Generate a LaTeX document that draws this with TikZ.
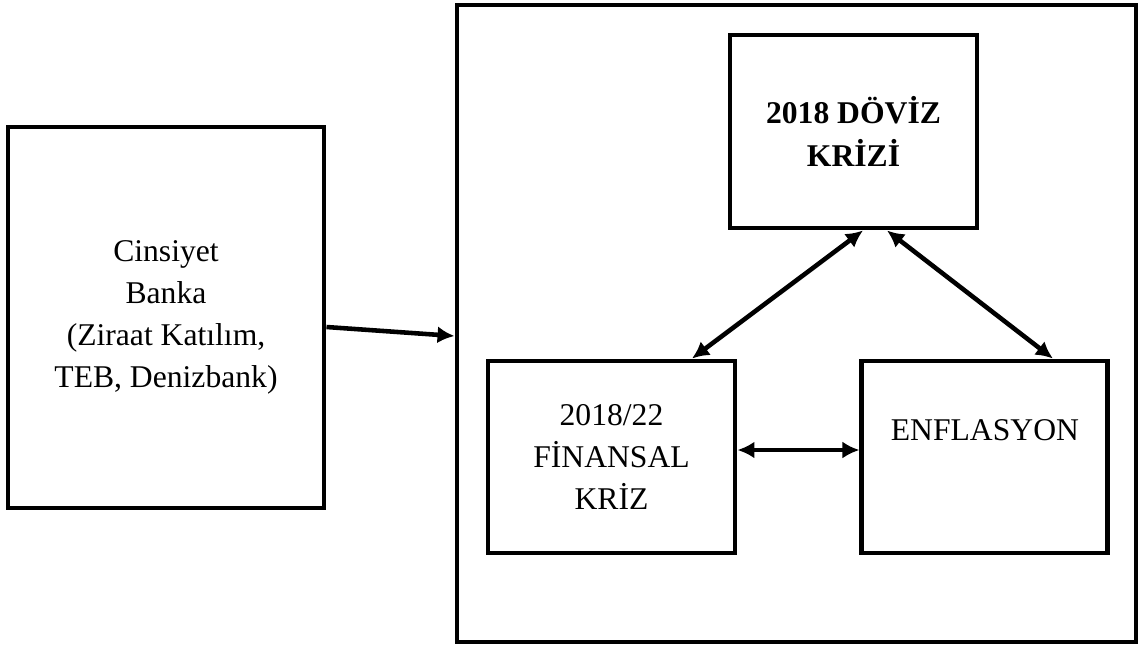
\documentclass[tikz,border=0pt]{standalone}
\usepackage{fontspec}
\setmainfont{Liberation Serif}
\usetikzlibrary{arrows.meta,positioning}
\begin{document}
\begin{tikzpicture}[
			node distance=2.44cm,
			every node/.style={draw, rectangle, line width=2.8pt, align=center, inner sep=0pt, font=\fontsize{18}{24}\selectfont},
			box/.style={minimum width=4.94cm, minimum height=3.84cm},
			onearrow/.style={line width=2.6pt, -{Latex[length=0.34cm, width=0.34cm]}},
			twoarrow/.style={line width=2.6pt, {Latex[length=0.34cm, width=0.34cm]}-{Latex[length=0.34cm, width=0.34cm]}}
			]
			\useasboundingbox (0,0) rectangle (22.86,-12.92);
			% Nodes
			\node[minimum width=6.32cm, minimum height=7.62cm] (vars) at (3.32,-6.35) {Cinsiyet\\Banka\\(Ziraat Katılım,\\TEB, Denizbank)};
			\node[minimum width=13.58cm, minimum height=12.74cm] (frame) at (15.93,-6.47) {};
			\node[box, minimum height=3.86cm, font=\bfseries\fontsize{18}{24}\selectfont] (doviz) at (17.07,-2.63) {2018 DÖVİZ\\KRİZİ};
			\node[box] (finans) at (12.23,-9.14) {2018/22\\FİNANSAL\\KRİZ};
			\node[box, right=of finans, minimum width=4.92cm] (enf) {ENFLASYON\\\strut};
			
			% Arrows
			\draw[onearrow] ([yshift=-0.19cm]vars.east) -- ([yshift=-0.25cm]frame.west);
			\draw[twoarrow] ([xshift=0.19cm]doviz.south) -- ([xshift=1.61cm]finans.north);
			\draw[twoarrow] ([xshift=0.67cm]doviz.south) -- ([xshift=1.36cm]enf.north);
			\draw[twoarrow] ([yshift=0.14cm]finans.east) -- ([yshift=0.14cm]enf.west);
		\end{tikzpicture}
\end{document}
